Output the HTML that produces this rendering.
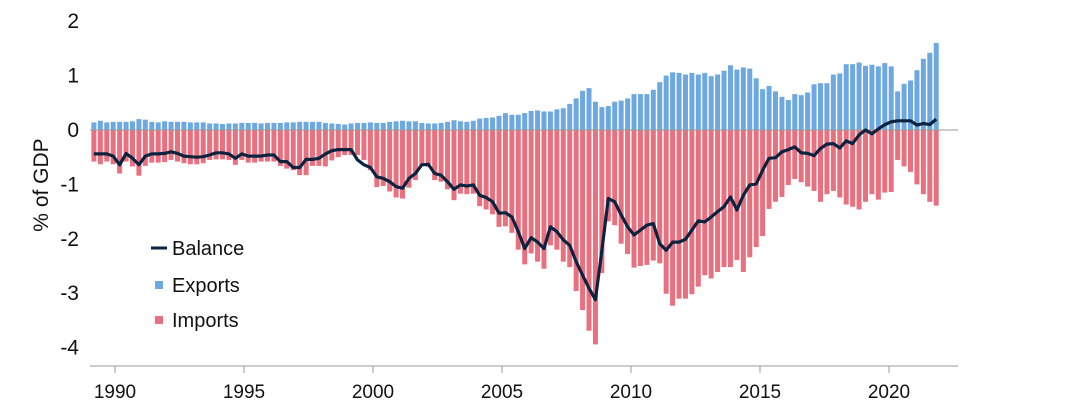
<!DOCTYPE html>
<html><head><meta charset="utf-8"><style>
body{margin:0;background:#fff;}
svg text{font-family:"Liberation Sans",Arial,sans-serif;fill:#111;}
</style></head><body>
<svg id="chart" width="1088" height="414" viewBox="0 0 1088 414" xmlns="http://www.w3.org/2000/svg">
<g id="bars"></g>
<line x1="90" x2="958" y1="130" y2="130" stroke="#999" stroke-width="1"/>
<path id="balance" fill="none" stroke="#0c2340" stroke-width="3.2" stroke-linejoin="round"/>
<line x1="90" x2="958" y1="366" y2="366" stroke="#999" stroke-width="1"/>
<g id="xticks"></g>
<g id="yticks"></g>
<text transform="translate(48,185) rotate(-90)" text-anchor="middle" font-size="21">% of GDP</text>
<g>
<g><line x1="151" x2="167" y1="248" y2="248" stroke="#0c2340" stroke-width="3"/><text x="172" y="255" font-size="20">Balance</text></g>
<g><rect x="155" y="281" width="8" height="8" fill="#6ea8e0"/><text x="172" y="292" font-size="20">Exports</text></g>
<g><rect x="155" y="316" width="8" height="8" fill="#e8707f"/><text x="172" y="327" font-size="20">Imports</text></g>
</g>
</svg>
<script>
const startYear = 1989;
const exportsData = [0.14,0.17,0.14,0.15,0.15,0.15,0.16,0.2,0.19,0.15,0.14,0.16,0.15,0.15,0.15,0.14,0.14,0.14,0.12,0.12,0.11,0.12,0.12,0.13,0.13,0.13,0.12,0.13,0.13,0.13,0.14,0.14,0.15,0.15,0.15,0.15,0.13,0.12,0.11,0.10,0.12,0.13,0.13,0.14,
0.13,0.13,0.15,0.16,0.17,0.16,0.16,0.13,0.12,0.12,0.13,0.15,0.18,0.16,0.15,0.17,0.21,0.22,0.23,0.26,0.31,0.28,0.28,0.31,0.35,0.36,0.34,0.34,0.38,0.40,0.48,0.58,0.72,0.77,0.52,0.42,0.44,0.52,0.54,0.58,0.66,0.66,
0.66,0.74,0.88,1.00,1.06,1.05,1.02,1.05,1.02,1.05,0.99,1.02,1.09,1.19,1.11,1.15,1.13,0.95,0.75,0.81,0.71,0.61,0.55,0.66,0.64,0.69,0.84,0.86,0.86,1.02,1.04,1.21,1.21,1.24,1.18,1.20,1.17,1.23,1.17,0.71,0.85,0.91,1.10,1.31,1.42,1.60];
const importsData = [0.58,0.63,0.58,0.63,0.80,0.58,0.67,0.84,0.66,0.60,0.60,0.59,0.55,0.58,0.61,0.63,0.63,0.61,0.55,0.54,0.54,0.55,0.64,0.55,0.60,0.60,0.58,0.58,0.58,0.66,0.71,0.74,0.83,0.83,0.66,0.66,0.67,0.56,0.50,0.46,0.46,0.46,0.55,0.74,
1.05,1.03,1.13,1.24,1.26,1.06,0.92,0.66,0.68,0.92,0.95,1.09,1.29,1.17,1.18,1.17,1.40,1.46,1.55,1.78,1.77,1.89,2.20,2.47,2.27,2.42,2.55,2.12,2.20,2.42,2.52,2.96,3.31,3.69,3.94,2.63,1.68,1.75,2.09,2.28,2.53,2.50,
2.48,2.40,2.45,3.01,3.23,3.10,3.10,3.02,2.88,2.67,2.73,2.61,2.52,2.52,2.39,2.61,2.34,2.15,1.95,1.45,1.32,1.23,1.01,0.90,0.96,1.04,1.12,1.32,1.18,1.12,1.24,1.37,1.41,1.46,1.32,1.18,1.28,1.15,1.14,0.55,0.67,0.77,1.00,1.18,1.32,1.39];
const balanceData = [-0.44,-0.44,-0.44,-0.48,-0.64,-0.43,-0.52,-0.64,-0.48,-0.44,-0.44,-0.43,-0.40,-0.43,-0.48,-0.49,-0.50,-0.49,-0.46,-0.42,-0.42,-0.44,-0.52,-0.44,-0.48,-0.48,-0.48,-0.46,-0.46,-0.58,-0.58,-0.69,-0.69,-0.54,-0.54,-0.52,-0.44,-0.38,-0.36,-0.36,-0.36,-0.55,-0.64,-0.69,
-0.86,-0.89,-0.95,-1.04,-1.07,-0.89,-0.80,-0.64,-0.63,-0.80,-0.83,-0.95,-1.09,-1.01,-1.03,-1.01,-1.20,-1.24,-1.32,-1.53,-1.52,-1.60,-1.87,-2.18,-1.98,-2.06,-2.18,-1.78,-1.87,-2.02,-2.12,-2.42,-2.67,-2.91,-3.12,-2.21,-1.26,-1.32,-1.56,-1.78,-1.93,-1.84,
-1.75,-1.72,-2.09,-2.21,-2.06,-2.06,-2.01,-1.84,-1.67,-1.69,-1.60,-1.50,-1.41,-1.23,-1.47,-1.20,-1.01,-0.99,-0.74,-0.52,-0.51,-0.40,-0.36,-0.31,-0.42,-0.43,-0.47,-0.34,-0.26,-0.25,-0.33,-0.20,-0.25,-0.09,0.00,-0.07,0.02,0.10,0.15,0.17,0.17,0.17,0.09,0.12,0.10,0.20];
const yTickValues = [2,1,0,-1,-2,-3,-4];
const xTickYears = [1990,1995,2000,2005,2010,2015,2020];

function yScale(v){ return 130 - v*54.4; }
function xScale(t){ return 93.9 + (t - startYear)*25.72; } // t in fractional years (quarter index/4)
const NS = "http://www.w3.org/2000/svg";
const bars = document.getElementById('bars');
const bw = 5;
for (let i=0;i<exportsData.length;i++){
  const cx = xScale(startYear + i/4);
  const e = document.createElementNS(NS,'rect');
  
  
  e.setAttribute('x', cx-bw/2); e.setAttribute('width', bw);
  e.setAttribute('y', yScale(exportsData[i])); e.setAttribute('height', yScale(0)-yScale(exportsData[i]));
  e.setAttribute('fill', '#6ea8e0');
  bars.appendChild(e);
  const m = document.createElementNS(NS,'rect');
  
  
  m.setAttribute('x', cx-bw/2); m.setAttribute('width', bw);
  m.setAttribute('y', yScale(0)); m.setAttribute('height', yScale(-importsData[i])-yScale(0));
  m.setAttribute('fill', '#e8707f');
  bars.appendChild(m);
}
let d = '';
balanceData.forEach((v,i)=>{ d += (i?'L':'M') + xScale(startYear + i/4).toFixed(1) + ',' + yScale(v).toFixed(1); });
document.getElementById('balance').setAttribute('d', d);
const yt = document.getElementById('yticks');
yTickValues.forEach(v=>{
  const t = document.createElementNS(NS,'text');
  
  
  t.setAttribute('x', 79); t.setAttribute('y', yScale(v)+7);
  t.setAttribute('text-anchor', 'end'); t.setAttribute('font-size', '21');
  t.textContent = v;
  yt.appendChild(t);
});
const xt = document.getElementById('xticks');
xTickYears.forEach(y=>{
  const x = 115 + (y-1990)*25.8;
  const l = document.createElementNS(NS,'line');
  
  
  l.setAttribute('x1', x); l.setAttribute('x2', x); l.setAttribute('y1', 366); l.setAttribute('y2', 373);
  l.setAttribute('stroke', '#999');
  xt.appendChild(l);
  const t = document.createElementNS(NS,'text');
  
  
  t.setAttribute('x', x); t.setAttribute('y', 398);
  t.setAttribute('text-anchor', 'middle'); t.setAttribute('font-size', '19');
  t.textContent = y;
  xt.appendChild(t);
});
</script>
</body></html>
